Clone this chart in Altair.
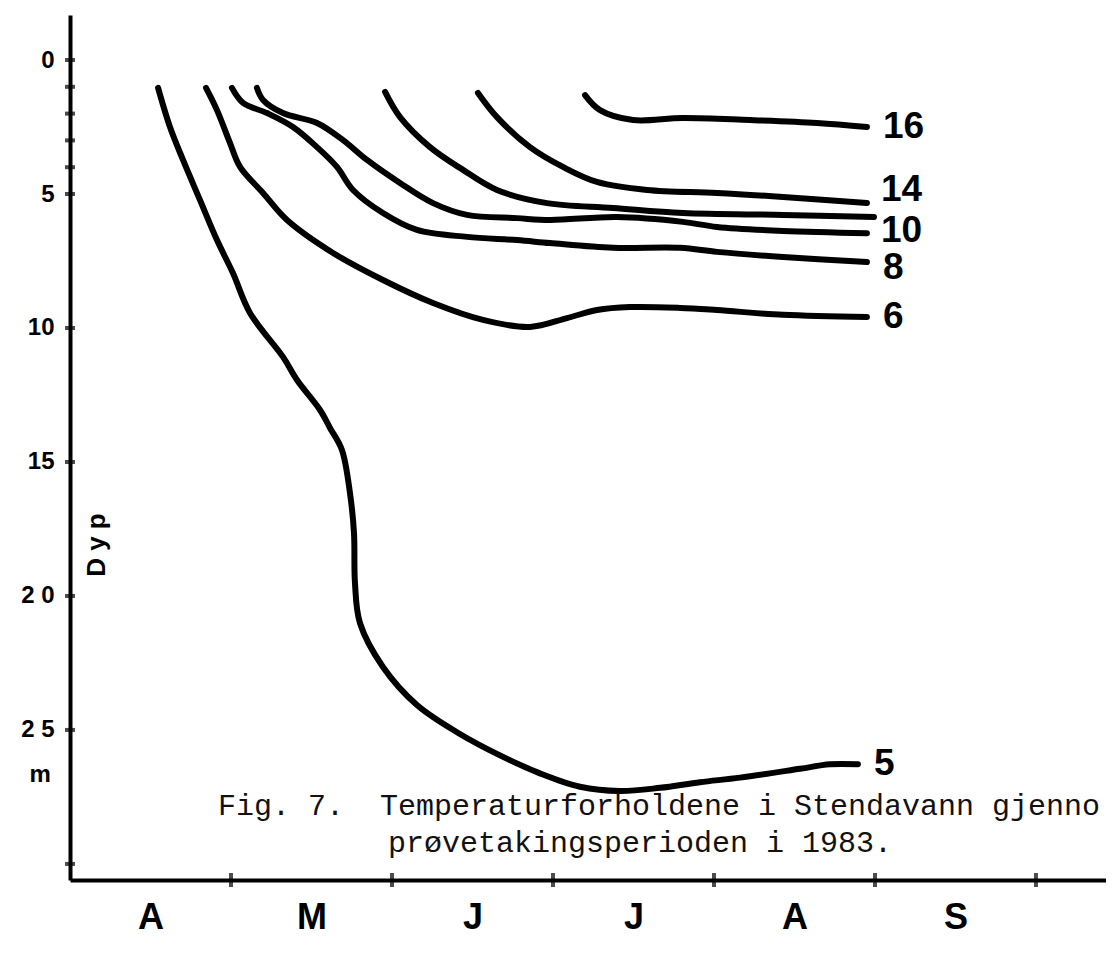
import altair as alt
import pandas as pd

# x: months since 1 April (A=0-1, M=1-2, J=2-3, J=3-4, A=4-5, S=5-6); y: depth in metres
c5_m = [0.547, 0.621, 0.702, 0.807, 0.913, 1.012, 1.118, 1.323, 1.410, 1.553, 1.615, 1.689, 1.739, 1.764, 1.770, 1.801, 1.944, 2.155, 2.422, 2.671, 2.919, 3.168, 3.416, 3.665, 3.913, 4.161, 4.534, 4.720, 4.894]
c5_d = [1.04, 2.50, 3.73, 5.22, 6.72, 7.95, 9.44, 11.08, 11.94, 13.06, 13.73, 14.55, 16.16, 17.65, 19.51, 21.01, 22.65, 24.07, 25.15, 25.95, 26.62, 27.12, 27.28, 27.16, 26.95, 26.78, 26.45, 26.28, 26.28]

c6_m = [0.845, 0.913, 0.994, 1.056, 1.199, 1.348, 1.634, 1.944, 2.255, 2.565, 2.857, 3.087, 3.273, 3.478, 3.789, 4.019, 4.429, 4.950]
c6_d = [1.04, 1.87, 3.10, 3.99, 4.96, 5.97, 7.20, 8.21, 9.07, 9.70, 9.96, 9.63, 9.33, 9.22, 9.25, 9.33, 9.51, 9.59]

c8_m = [1.006, 1.075, 1.224, 1.385, 1.534, 1.658, 1.758, 1.944, 2.155, 2.466, 2.776, 2.981, 3.373, 3.789, 4.019, 4.429, 4.950]
c8_d = [1.04, 1.60, 1.98, 2.50, 3.25, 3.99, 4.85, 5.71, 6.34, 6.60, 6.72, 6.83, 7.01, 7.01, 7.16, 7.35, 7.54]

c10_m = [1.161, 1.199, 1.323, 1.534, 1.696, 1.845, 2.050, 2.255, 2.466, 2.776, 2.981, 3.398, 3.807, 4.019, 4.429, 4.950]
c10_d = [1.04, 1.49, 1.98, 2.35, 2.99, 3.73, 4.59, 5.34, 5.78, 5.90, 5.97, 5.86, 6.04, 6.23, 6.38, 6.46]

c12_m = [1.957, 2.050, 2.236, 2.441, 2.652, 2.963, 3.373, 3.807, 4.429, 4.994]
c12_d = [1.19, 2.13, 3.25, 4.10, 4.85, 5.34, 5.52, 5.71, 5.78, 5.86]

c14_m = [2.534, 2.652, 2.857, 3.062, 3.273, 3.584, 4.019, 4.429, 4.950]
c14_d = [1.23, 2.13, 3.25, 3.99, 4.55, 4.85, 4.96, 5.11, 5.34]

c16_m = [3.199, 3.292, 3.497, 3.807, 4.224, 4.640, 4.950]
c16_d = [1.31, 1.87, 2.24, 2.16, 2.24, 2.35, 2.50]

curves = {
    "5": (c5_m, c5_d),
    "6": (c6_m, c6_d),
    "8": (c8_m, c8_d),
    "10": (c10_m, c10_d),
    "12": (c12_m, c12_d),
    "14": (c14_m, c14_d),
    "16": (c16_m, c16_d),
}
month_letters = ["A", "M", "J", "J", "A", "S"]
month_bounds = [1, 2, 3, 4, 5, 6]
depth_labels = [0, 5, 10, 15, 20, 25]
depth_ticks = [0, 1, 2, 3, 4, 5, 10, 15, 20, 25, 30]
caption1 = "Fig. 7.\u00a0\u00a0Temperaturforholdene i Stendavann gjenno"
caption2 = "prøvetakingsperioden i 1983."

X_MAX = 6.435
Y_MIN, Y_MAX = -1.68, 30.6

rows = []
for name, (ms, ds) in curves.items():
    for i, (m, d) in enumerate(zip(ms, ds)):
        rows.append({"curve": name, "m": m, "d": d, "i": i})
lines_df = pd.DataFrame(rows)


def end_of(k):
    return pd.DataFrame([{"m": curves[k][0][-1], "d": curves[k][1][-1], "t": k}])


month_expr = "[" + ",".join("'%s'" % s for s in month_letters) + "][round(datum.value - 0.5)]"
X = alt.X("m:Q", title="",
          scale=alt.Scale(domain=[0, X_MAX], nice=False, zero=False),
          axis=alt.Axis(values=[b - 0.5 for b in month_bounds], labelExpr=month_expr,
                        ticks=False, grid=False, labelFontSize=36, labelFontWeight="bold",
                        labelFont="Liberation Sans", labelColor="black", labelPadding=20,
                        domainColor="black", domainWidth=4))
Y = alt.Y("d:Q", title="",
          scale=alt.Scale(domain=[Y_MIN, Y_MAX], reverse=True, nice=False, zero=False),
          axis=alt.Axis(values=depth_labels,
                        labelExpr="datum.value == 20 ? '2 0' : datum.value == 25 ? '2 5' : datum.label",
                        ticks=False, grid=False, labelFontSize=24, labelFontWeight="bold",
                        labelFont="Liberation Sans", labelColor="black", labelPadding=16,
                        domainColor="black", domainWidth=4))

lines = alt.Chart(lines_df).mark_line(
    color="black", strokeWidth=6, strokeCap="round", strokeJoin="round",
    interpolate="catmull-rom"
).encode(x=X, y=Y, detail="curve:N", order="i:Q")

yticks = alt.Chart(pd.DataFrame({"m": [0] * len(depth_ticks), "d": depth_ticks})).mark_tick(
    orient="horizontal", color="black", size=10, thickness=4
).encode(x=X, y=Y)

xticks = alt.Chart(pd.DataFrame({"m": month_bounds, "d": [Y_MAX] * len(month_bounds)})).mark_tick(
    orient="vertical", color="black", size=14, thickness=4
).encode(x=X, y=Y)

label_style = dict(align="left", baseline="middle", fontSize=37, fontWeight="bold",
                   font="Liberation Sans", color="black")
# (curve, dx, dy) for the end labels; curve 12 carries no label
label_offsets = [("16", 16, 0), ("14", 14, -13), ("10", 14, -2), ("8", 16, 6), ("6", 16, 0), ("5", 16, 0)]
end_labels = [
    alt.Chart(end_of(k)).mark_text(dx=dx, dy=dy, **label_style).encode(x=X, y=Y, text="t:N")
    for k, dx, dy in label_offsets
]

dyp = alt.Chart(pd.DataFrame([{"m": 0.168, "d": 18.1, "t": "D y p"}])).mark_text(
    angle=270, align="center", baseline="middle", fontSize=26, fontWeight="bold",
    font="Liberation Sans", color="black"
).encode(x=X, y=Y, text="t:N")

unit = alt.Chart(pd.DataFrame([{"m": -0.186, "d": 26.7, "t": "m"}])).mark_text(
    align="center", baseline="middle", fontSize=24, fontWeight="bold",
    font="Liberation Sans", color="black"
).encode(x=X, y=Y, text="t:N")

cap_df = pd.DataFrame([
    {"m": 0.919, "d": 27.84, "t": caption1},
    {"m": 1.975, "d": 29.22, "t": caption2},
])
caption = alt.Chart(cap_df).mark_text(
    align="left", baseline="middle", fontSize=30, font="Liberation Mono", color="#111111"
).encode(x=X, y=Y, text="t:N")

chart = alt.layer(lines, yticks, xticks, *end_labels, dyp, unit, caption).properties(
    width=1036, height=865,
    autosize=alt.AutoSizeParams(type="none"),
    padding={"left": 62, "top": 7, "right": 0, "bottom": 70},
    background="white",
).configure_view(strokeWidth=0)

chart.save("out.html", embed_options={"renderer": "svg", "actions": False})
